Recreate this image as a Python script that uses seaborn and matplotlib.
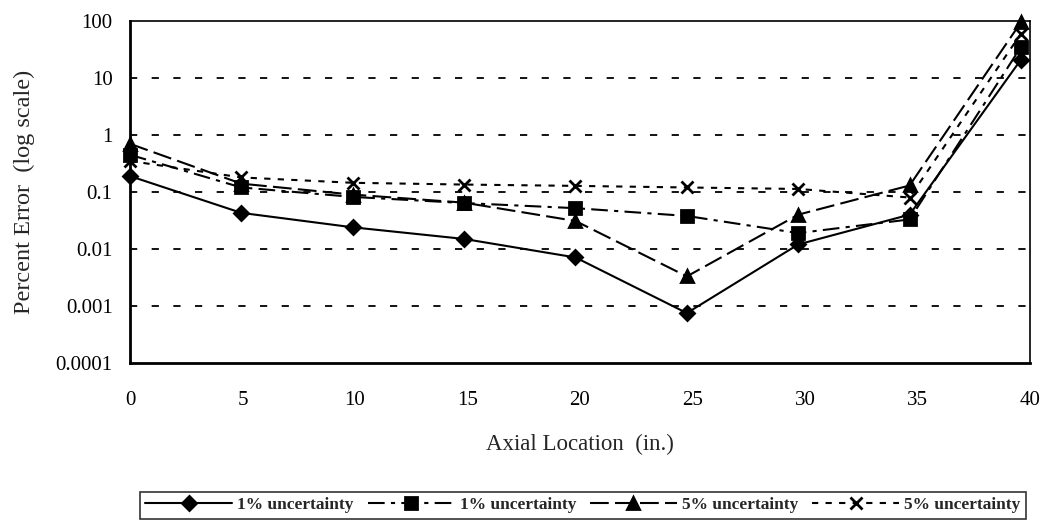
import matplotlib
matplotlib.use("Agg")
import matplotlib.pyplot as plt
import seaborn as sns
import pandas as pd
import numpy as np

# Axial locations of the measurement stations (inches)
axial = [0, 4.95, 9.9, 14.85, 19.8, 24.75, 29.7, 34.65, 39.6]

# Percent error for each case
err_1pct_a = [0.19, 0.043, 0.024, 0.015, 0.0071, 0.00075, 0.012, 0.040, 21]
err_1pct_b = [0.45, 0.12, 0.082, 0.064, 0.052, 0.038, 0.019, 0.033, 35]
err_5pct_a = [0.70, 0.14, 0.090, 0.065, 0.031, 0.0033, 0.040, 0.13, 95]
err_5pct_b = [0.35, 0.18, 0.145, 0.135, 0.128, 0.12, 0.113, 0.08, 60]

legend_labels = ["1% uncertainty", "1% uncertainty", "5% uncertainty", "5% uncertainty"]
x_ticks = [0, 5, 10, 15, 20, 25, 30, 35, 40]
y_tick_values = [1e-4, 1e-3, 1e-2, 1e-1, 1, 10, 100]
y_tick_labels = ["0.0001", "0.001", "0.01", "0.1", "1", "10", "100"]
all_series = [err_1pct_a, err_1pct_b, err_5pct_a, err_5pct_b]

sns.set_style("white")
plt.rcParams["font.family"] = ["Liberation Serif", "DejaVu Serif"]

fig = plt.figure(figsize=(10.45, 5.26), dpi=100)
ax = fig.add_axes([0.1244, 0.310, 0.8612, 0.650])

markers = ["D", "s", "^", "x"]
dashes = [None, (0, (8, 3, 2, 3)), (0, (9, 3)), (0, (3, 3.5))]
msizes = [7.5, 8.5, 9, 9]

handles = []
for vals, mk, ls, ms in zip(all_series, markers, dashes, msizes):
    d = pd.DataFrame({"x": axial, "y": vals})
    sns.lineplot(data=d, x="x", y="y", color="black", linewidth=1.5,
                 marker=mk, markersize=ms, markeredgewidth=2.0,
                 markeredgecolor="black", markerfacecolor="black",
                 ax=ax, legend=False)
    line = ax.get_lines()[-1]
    line.set_linestyle("-" if ls is None else ls)
    line.set_clip_on(False)
    handles.append(line)

ax.set_yscale("log")
ax.set_ylim(y_tick_values[0], y_tick_values[-1])
ax.set_xlim(x_ticks[0], x_ticks[-1])
ax.set_xticks(x_ticks)
ax.set_yticks(y_tick_values)
ax.set_yticklabels(y_tick_labels)
ax.yaxis.set_minor_locator(matplotlib.ticker.NullLocator())

# dashed horizontal reference lines at each decade
for v in y_tick_values[1:-1]:
    ax.axhline(v, color="black", linestyle=(0, (4, 8)), linewidth=1.3, zorder=0)

for s in ax.spines.values():
    s.set_color("black")
    s.set_linewidth(1.2)
ax.spines["left"].set_linewidth(2.0)
ax.spines["bottom"].set_linewidth(2.0)

ax.tick_params(axis="both", which="major", direction="inout", length=11,
               width=1.5, labelsize=15, colors="black")
ax.tick_params(axis="x", pad=15)
ax.tick_params(axis="y", pad=7)

ax.set_xlabel("Axial Location  (in.)", fontsize=16.5, labelpad=17)
ax.set_ylabel("Percent Error  (log scale)", fontsize=17.5, labelpad=15)

leg = fig.legend(handles, legend_labels, loc="upper left", ncol=4,
                 bbox_to_anchor=(140 / 1045, 1 - 492 / 526), frameon=True,
                 fancybox=False, edgecolor="black", handlelength=5.0,
                 columnspacing=0.8, handletextpad=0.3, borderpad=0.3,
                 borderaxespad=0.0,
                 prop={"family": "Liberation Serif", "weight": "bold", "size": 12.5})
leg.get_frame().set_linewidth(1.2)

fig.savefig("out.png", dpi=100)
